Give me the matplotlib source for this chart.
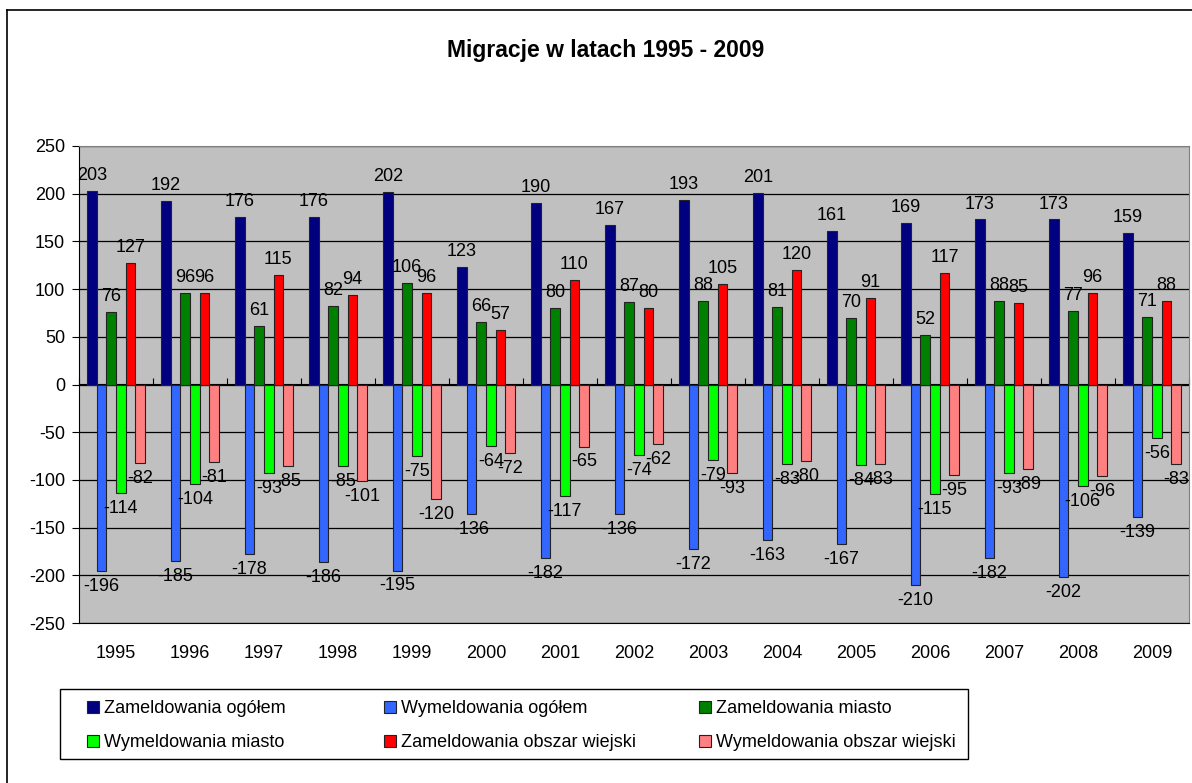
import numpy as np
import matplotlib.pyplot as plt
from matplotlib.lines import Line2D
from matplotlib.patches import Rectangle

plt.rcParams['font.family'] = ['Liberation Sans', 'DejaVu Sans']
plt.rcParams['axes.unicode_minus'] = False

years = ["1995", "1996", "1997", "1998", "1999", "2000", "2001", "2002",
         "2003", "2004", "2005", "2006", "2007", "2008", "2009"]
zam_ogolem = [203, 192, 176, 176, 202, 123, 190, 167, 193, 201, 161, 169, 173, 173, 159]
wym_ogolem = [-196, -185, -178, -186, -195, -136, -182, -136, -172, -163, -167, -210, -182, -202, -139]
zam_miasto = [76, 96, 61, 82, 106, 66, 80, 87, 88, 81, 70, 52, 88, 77, 71]
wym_miasto = [-114, -104, -93, -85, -75, -64, -117, -74, -79, -83, -84, -115, -93, -106, -56]
zam_wies = [127, 96, 115, 94, 96, 57, 110, 80, 105, 120, 91, 117, 85, 96, 88]
wym_wies = [-82, -81, -85, -101, -120, -72, -65, -62, -93, -80, -83, -95, -89, -96, -83]

series = [
    ("Zameldowania ogółem", zam_ogolem, "#000080"),
    ("Wymeldowania ogółem", wym_ogolem, "#3366FF"),
    ("Zameldowania miasto", zam_miasto, "#008000"),
    ("Wymeldowania miasto", wym_miasto, "#00FF00"),
    ("Zameldowania obszar wiejski", zam_wies, "#FF0000"),
    ("Wymeldowania obszar wiejski", wym_wies, "#FF8080"),
]

W, H = 1192, 783
fig = plt.figure(figsize=(W / 100, H / 100), dpi=100)
ax = fig.add_axes([79 / W, 1 - 623 / H, 1110 / W, 477 / H])
ax.set_facecolor("#C0C0C0")

x = np.arange(len(years))
w = 0.13
containers = []
for i, (name, vals, col) in enumerate(series):
    bc = ax.bar(x + (i - 2.5) * w, vals, w, color=col, edgecolor="#222222",
                linewidth=0.8, label=name, zorder=3)
    ax.bar_label(bc, padding=5, fontsize=13, zorder=4)
    containers.append(bc)

ax.set_xlim(-0.5, len(years) - 0.5)
ax.set_ylim(-250, 250)
ax.set_yticks(np.arange(-250, 251, 50))
ax.yaxis.grid(True, color="#000000", linewidth=0.9, zorder=1)
ax.set_axisbelow(True)
ax.set_xticks(x)
ax.set_xticklabels(years)
ax.tick_params(axis="x", length=0, pad=16, labelsize=13)
ax.tick_params(axis="y", length=5, direction="out", labelsize=13, pad=5)

for s in ["top", "right"]:
    ax.spines[s].set_color("#808080")
ax.spines["bottom"].set_color("#000000")
ax.spines["left"].set_color("#000000")

# category axis crossing at zero
sec = ax.secondary_xaxis(0.5)
sec.set_xticks(np.arange(-0.5, len(years) + 0.5, 1))
sec.tick_params(axis="x", length=4, direction="out", labelbottom=False, labeltop=False)
sec.spines["bottom"].set_color("#000000")
sec.spines["bottom"].set_linewidth(0.9)

fig.text(606 / W, 1 - 51 / H, "Migracje w latach 1995 - 2009",
         ha="center", va="center", fontsize=16.5, fontweight="bold")

# legend box with three columns, entries read row by row
fig.add_artist(Rectangle((60 / W, 1 - 759 / H), 908 / W, 70 / H, transform=fig.transFigure,
                         facecolor="white", edgecolor="black", linewidth=1.0, zorder=1))
col_x = [87, 384, 699]
for c in range(3):
    hs = [containers[c], containers[c + 3]]
    ls = [series[c][0], series[c + 3][0]]
    leg = fig.legend(hs, ls, loc="upper left",
                     bbox_to_anchor=(col_x[c] / W, 1 - 700 / H),
                     fontsize=13, frameon=False, handlelength=0.65, handleheight=0.65,
                     handletextpad=0.3, borderaxespad=0, borderpad=0, labelspacing=0.95)
    leg.set_zorder(2)

# outer chart border
fig.add_artist(Line2D([7 / W, 7 / W], [0, 1 - 10 / H], color="black", linewidth=1.2))
fig.add_artist(Line2D([7 / W, 1], [1 - 10 / H, 1 - 10 / H], color="black", linewidth=1.2))

fig.savefig("out.png", dpi=100)
